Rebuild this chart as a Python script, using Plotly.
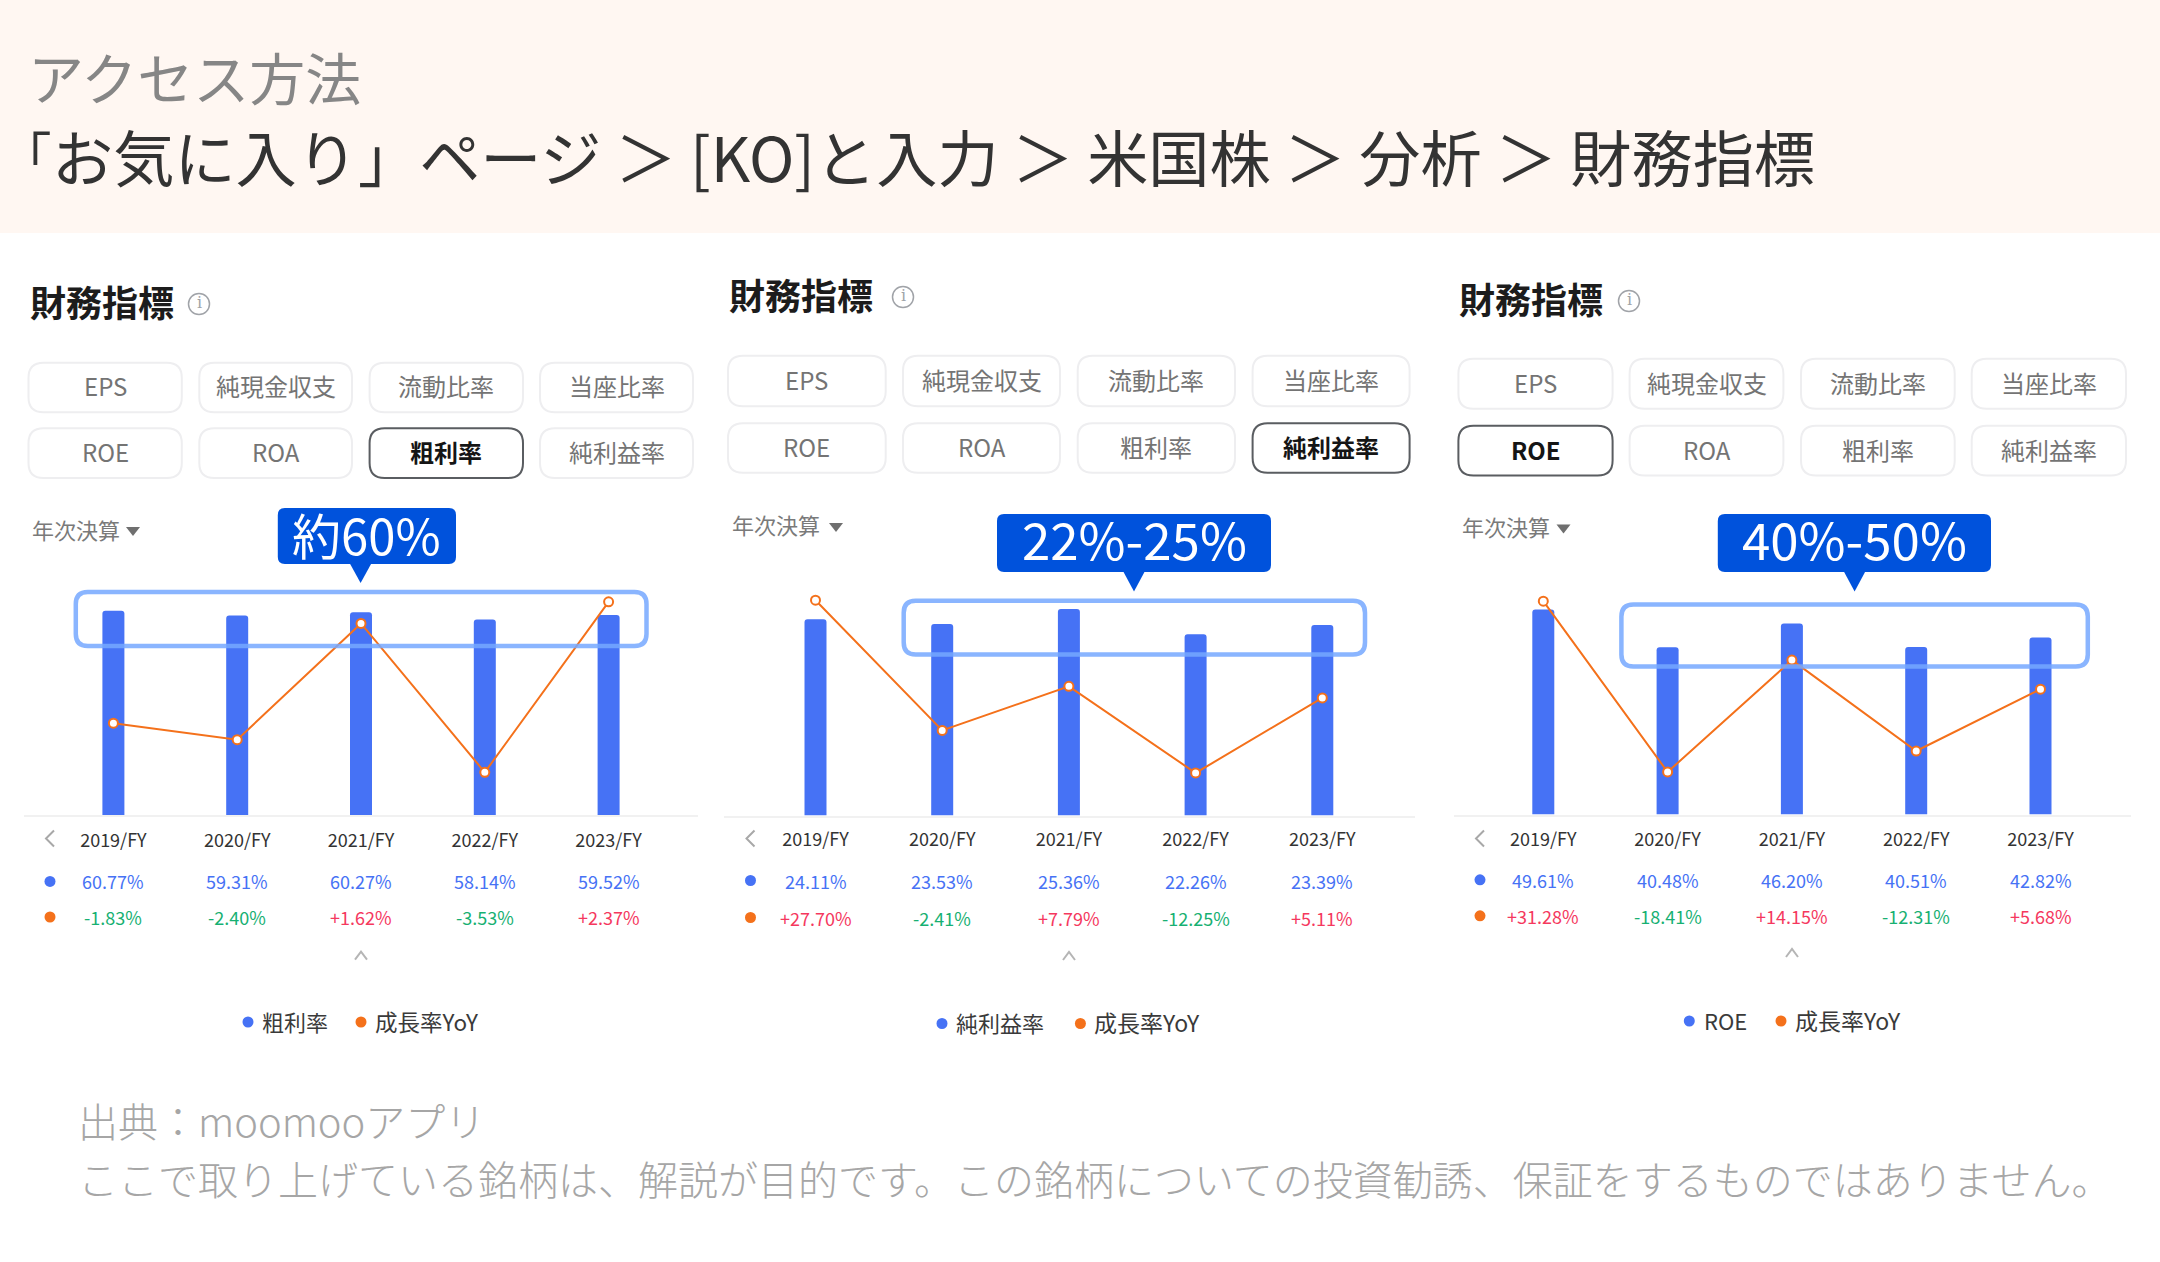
import plotly.graph_objects as go

W = 2160
H = 1262
FONT = 'Noto Sans CJK JP'

years = ['2019/FY', '2020/FY', '2021/FY', '2022/FY', '2023/FY']
buttons = ['EPS', '純現金収支', '流動比率', '当座比率', 'ROE', 'ROA', '粗利率', '純利益率']

gross_margin = [60.77, 59.31, 60.27, 58.14, 59.52]
gross_growth = [-1.83, -2.40, 1.62, -3.53, 2.37]
net_margin = [24.11, 23.53, 25.36, 22.26, 23.39]
net_growth = [27.70, -2.41, 7.79, -12.25, 5.11]
roe = [49.61, 40.48, 46.20, 40.51, 42.82]
roe_growth = [31.28, -18.41, 14.15, -12.31, 5.68]

BLUE = '#4672f5'
ORANGE = '#f4711b'
GREEN = '#17b072'
RED = '#f5385e'
CALLOUT = '#0052dc'
FRAME = 'rgba(118,168,255,0.85)'

PLOT_TOP = 590

panels = [
    dict(name='粗利率', values=gross_margin, growth=gross_growth, selected=6, callout='約60%', callout_size=49,
         callout_dy=1, title=(30, 303), icon=(199, 304), year=(32, 530), tri=(133, 531),
         btn_x=[(28.5, 181.8), (199.3, 352), (369.6, 523), (540, 693)],
         btn_y=[(362.7, 412.3), (428.3, 478)],
         axis=(24, 698), first=113.4, step=123.8, bar_w=22, base=815,
         bar_px=3.362, line_ref=(2.37, 601.8), line_px=28.9,
         box=(277.8, 456, 508, 564), tip=(360.6, 583), frame=(75.8, 646.5, 592, 646),
         ticklen=8, tick_y=838.5, rows=(881.4, 917), left=50, up=(361, 955.6),
         legend_y=1022, legend=(248, 262, 361, 375), legend_size=22.5),
    dict(name='純利益率', values=net_margin, growth=net_growth, selected=7, callout='22%-25%', callout_size=51,
         callout_dy=-1.5, title=(729, 296), icon=(903, 297), year=(732, 525.6), tri=(836, 527),
         btn_x=[(728, 885.7), (903, 1060), (1077.7, 1235), (1252.6, 1409.6)],
         btn_y=[(355.8, 406.2), (423.2, 472.8)],
         axis=(723.7, 1414.7), first=815.5, step=126.7, bar_w=22, base=815.6,
         bar_px=8.146, line_ref=(27.70, 600.2), line_px=4.325,
         box=(997, 1271, 514, 572), tip=(1134, 591.5), frame=(903.7, 1365, 600.8, 654.5),
         ticklen=7, tick_y=838.5, rows=(880.5, 917.5), left=750.5, up=(1069, 956),
         legend_y=1023.5, legend=(942, 956, 1080.4, 1094), legend_size=23),
    dict(name='ROE', values=roe, growth=roe_growth, selected=4, callout='40%-50%', callout_size=51,
         callout_dy=-1.5, title=(1459, 300), icon=(1629, 301), year=(1462, 527), tri=(1563.5, 528.5),
         btn_x=[(1458.4, 1612.6), (1629.6, 1783.4), (1801, 1954.7), (1971.7, 2126)],
         btn_y=[(358.8, 408.8), (425.8, 475.5)],
         axis=(1453.8, 2130.5), first=1543.3, step=124.3, bar_w=22, base=814.6,
         bar_px=4.136, line_ref=(31.28, 601.2), line_px=3.437,
         box=(1717.8, 1991, 514, 572), tip=(1854.6, 591.5), frame=(1621.4, 2087.8, 604.5, 666.5),
         ticklen=8, tick_y=838.5, rows=(879.8, 915.8), left=1480, up=(1792, 953),
         legend_y=1021, legend=(1689.3, 1703.5, 1781, 1794.5), legend_size=23),
]


def px(x):
    return x / W


def py(y):
    return 1 - y / H


def text(x, y, s, size, color, anchor='left', weight=400, family=FONT):
    # CJK line box sits low, pull the ink back onto y
    fig.add_annotation(xref='paper', yref='paper', x=px(x), y=py(y - size * 0.065), text=s, showarrow=False,
                       xanchor=anchor, yanchor='middle', borderpad=0, borderwidth=0,
                       font=dict(family=family, size=size, color=color, weight=weight))


def round_rect(x0, x1, y0, y1, r):
    return (f'M {px(x0 + r)} {py(y0)} L {px(x1 - r)} {py(y0)} '
            f'Q {px(x1)} {py(y0)} {px(x1)} {py(y0 + r)} L {px(x1)} {py(y1 - r)} '
            f'Q {px(x1)} {py(y1)} {px(x1 - r)} {py(y1)} L {px(x0 + r)} {py(y1)} '
            f'Q {px(x0)} {py(y1)} {px(x0)} {py(y1 - r)} L {px(x0)} {py(y0 + r)} '
            f'Q {px(x0)} {py(y0)} {px(x0 + r)} {py(y0)} Z')


def path(d, fill=None, line=None, width=0, layer='above'):
    fig.add_shape(type='path', xref='paper', yref='paper', path=d, fillcolor=fill, layer=layer,
                  line=dict(color=line, width=width))


def dot(x, y, r, color):
    fig.add_shape(type='circle', xref='paper', yref='paper', x0=px(x - r), x1=px(x + r),
                  y0=py(y + r), y1=py(y - r), fillcolor=color, line=dict(width=0))


def poly(points):
    return 'M ' + ' L '.join(f'{px(x)} {py(y)}' for x, y in points)


fig = go.Figure()

# header band
fig.add_shape(type='rect', xref='paper', yref='paper', x0=0, x1=1, y0=py(233), y1=1,
              fillcolor='#fff7f2', line=dict(width=0), layer='below')
text(28, 79, 'アクセス方法', 56, '#868686')
# the opening bracket is set tighter than a full-width glyph in the reference
text(0, 156, '「', 51.5, '#333333')
text(52, 159, 'お気に入り」ページ ＞ [KO]と入力 ＞ 米国株 ＞ 分析 ＞ 財務指標', 61.2, '#333333')

for i, p in enumerate(panels):
    n = i + 1
    xname = 'x' if i == 0 else f'x{n}'
    y1name = 'y' if i == 0 else f'y{2 * n - 1}'
    y2name = f'y{2 * n}'

    fig.add_trace(go.Bar(x=years, y=p['values'], name=p['name'], xaxis=xname, yaxis=y1name,
                         width=p['bar_w'] / p['step'], showlegend=False,
                         marker=dict(color=BLUE, cornerradius=3, line=dict(width=0))))
    fig.add_trace(go.Scatter(x=years, y=p['growth'], name='成長率YoY', xaxis=xname, yaxis=y2name,
                             mode='lines+markers', showlegend=False, cliponaxis=False,
                             line=dict(color=ORANGE, width=2),
                             marker=dict(size=9, color='white', line=dict(color=ORANGE, width=2))))

    ax0, ax1 = p['axis']
    domain_y = [py(p['base']), py(PLOT_TOP)]
    fig.update_layout({
        f'xaxis{n if i else ""}': dict(
            domain=[px(ax0), px(ax1)], anchor=y1name, type='category', categoryorder='array',
            categoryarray=years,
            range=[(ax0 - p['first']) / p['step'], (ax1 - p['first']) / p['step']],
            showline=True, linecolor='#f1f1f1', linewidth=2, showgrid=False, zeroline=False,
            ticks='outside', ticklen=p['ticklen'], tickcolor='rgba(0,0,0,0)',
            tickfont=dict(family=FONT, size=18, color='#333333')),
        f'yaxis{2 * n - 1 if i else ""}': dict(
            domain=domain_y, anchor=xname, range=[0, (p['base'] - PLOT_TOP) / p['bar_px']],
            visible=False),
        f'yaxis{2 * n}': dict(
            domain=domain_y, anchor=xname, overlaying=y1name,
            range=[p['line_ref'][0] - (p['base'] - p['line_ref'][1]) / p['line_px'],
                   p['line_ref'][0] + (p['line_ref'][1] - PLOT_TOP) / p['line_px']],
            visible=False),
    })

    # heading and info icon
    text(p['title'][0], p['title'][1], '財務指標', 36, '#1c1c1c', weight=700)
    ix, iy = p['icon']
    fig.add_shape(type='circle', xref='paper', yref='paper', x0=px(ix - 10.5), x1=px(ix + 10.5),
                  y0=py(iy + 10.5), y1=py(iy - 10.5), line=dict(color='#a0a3a8', width=1.5))
    text(ix, iy, 'i', 16, '#a0a3a8', anchor='center', family='DejaVu Serif')

    # metric buttons
    for b, label in enumerate(buttons):
        x0, x1 = p['btn_x'][b % 4]
        y0, y1 = p['btn_y'][b // 4]
        on = b == p['selected']
        path(round_rect(x0, x1, y0, y1, 15), fill='white', line='#5a5d61' if on else '#eeeef0', width=2)
        text((x0 + x1) / 2, (y0 + y1) / 2, label, 24, '#151515' if on else '#747474',
             anchor='center', weight=700 if on else 400)

    # period selector
    text(p['year'][0], p['year'][1], '年次決算', 22, '#7a7a7a')
    tx, ty = p['tri']
    path(poly([(tx - 7, ty - 4), (tx + 7, ty - 4), (tx, ty + 5)]) + ' Z', fill='#6f6f6f')

    # callout and highlight frame
    x0, x1, y0, y1 = p['box']
    path(round_rect(x0, x1, y0, y1, 7), fill=CALLOUT)
    tipx, tipy = p['tip']
    path(poly([(tipx - 11, y1 - 1), (tipx + 11, y1 - 1), (tipx, tipy)]) + ' Z', fill=CALLOUT)
    text((x0 + x1) / 2, (y0 + y1) / 2 + p['callout_dy'], p['callout'], p['callout_size'], 'white', anchor='center')
    x0, x1, y0, y1 = p['frame']
    path(round_rect(x0, x1, y0, y1, 12), line=FRAME, width=4.5)

    # value rows under the chart
    for year, v, g in zip(years, p['values'], p['growth']):
        fig.add_annotation(xref=xname, yref='paper', x=year, y=py(p['rows'][0]), text=f'{v:.2f}%',
                           showarrow=False, yanchor='middle',
                           font=dict(family=FONT, size=18, color=BLUE))
        fig.add_annotation(xref=xname, yref='paper', x=year, y=py(p['rows'][1]), text=f'{g:+.2f}%',
                           showarrow=False, yanchor='middle',
                           font=dict(family=FONT, size=18, color=RED if g > 0 else GREEN))
    dot(p['left'], p['rows'][0], 5.5, BLUE)
    dot(p['left'], p['rows'][1], 5.5, ORANGE)

    # chevrons
    lx = p['left']
    path(poly([(lx + 4, p['tick_y'] - 8), (lx - 4, p['tick_y']), (lx + 4, p['tick_y'] + 8)]),
         line='#a8a8a8', width=2)
    ux, uy = p['up']
    path(poly([(ux - 6, uy + 4), (ux, uy - 4), (ux + 6, uy + 4)]), line='#b5b5b5', width=2)

    # legend
    d1, t1, d2, t2 = p['legend']
    dot(d1, p['legend_y'], 5.5, BLUE)
    text(t1, p['legend_y'], p['name'], 22, '#3a3a3a')
    dot(d2, p['legend_y'], 5.5, ORANGE)
    text(t2, p['legend_y'], '成長率YoY', p['legend_size'], '#3a3a3a')

# footer
text(78, 1122.5, '出典：moomooアプリ', 40, '#a6a6a6', weight=300)
text(78, 1180.5, 'ここで取り上げている銘柄は、解説が目的です。この銘柄についての投資勧誘、保証をするものではありません。',
     40, '#a6a6a6', weight=300)

fig.update_layout(width=W, height=H, margin=dict(l=0, r=0, t=0, b=0), paper_bgcolor='white',
                  plot_bgcolor='rgba(0,0,0,0)', barmode='overlay', showlegend=False,
                  font=dict(family=FONT))

fig.write_html('out.html', post_script="document.body.style.margin='0';",
               config=dict(displayModeBar=False))
